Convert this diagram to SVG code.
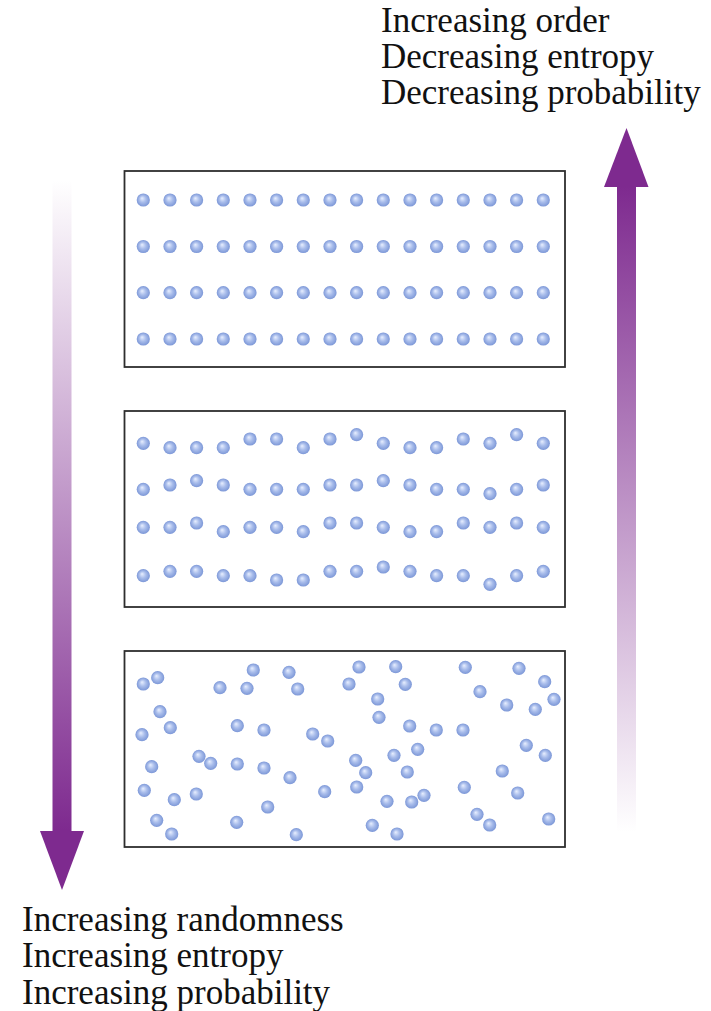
<svg xmlns="http://www.w3.org/2000/svg" width="711" height="1011" viewBox="0 0 711 1011">
<style>
.box{fill:#fff;stroke:#2e2e2e;stroke-width:1.8}
.d{fill:url(#sphere)}
.lbl{font-family:"Liberation Serif","Times New Roman",serif;font-size:35px;fill:#111}
.arr{fill:#7e2a8f}
</style>
<defs>
<radialGradient id="sphere" cx="0.5" cy="0.5" r="0.5" fx="0.4" fy="0.36">
<stop offset="0" stop-color="#e8efff"/>
<stop offset="0.5" stop-color="#a9bdeb"/>
<stop offset="1" stop-color="#7c97d7"/>
</radialGradient>
<linearGradient id="gDown" gradientUnits="userSpaceOnUse" x1="0" y1="180" x2="0" y2="830">
<stop offset="0" stop-color="#7e2a8f" stop-opacity="0"/>
<stop offset="1" stop-color="#7e2a8f" stop-opacity="1"/>
</linearGradient>
<linearGradient id="gUp" gradientUnits="userSpaceOnUse" x1="0" y1="186" x2="0" y2="832">
<stop offset="0" stop-color="#7e2a8f" stop-opacity="1"/>
<stop offset="1" stop-color="#7e2a8f" stop-opacity="0"/>
</linearGradient>
</defs>
<rect width="711" height="1011" fill="#fff"/>

<g id="connectors">
<g id="arrow-down">
<rect x="52.5" y="180" width="19" height="652" fill="url(#gDown)"/>
<polygon class="arr" points="40,831 84,831 62,890"/>
</g>
<g id="arrow-up">
<rect x="617" y="186" width="19" height="646" fill="url(#gUp)"/>
<polygon class="arr" points="604,187 648.5,187 626.5,128"/>
</g>
</g>

<g id="label-top">
<text class="lbl" x="381" y="32">Increasing order</text>
<text class="lbl" x="381" y="68">Decreasing entropy</text>
<text class="lbl" x="381" y="104">Decreasing probability</text>
</g>
<g id="label-bottom">
<text class="lbl" x="22" y="931">Increasing randomness</text>
<text class="lbl" x="22" y="967">Increasing entropy</text>
<text class="lbl" x="22" y="1003.5">Increasing probability</text>
</g>

<g id="box-ordered">
<rect class="box" x="124.5" y="171" width="440.5" height="196"/>
<g>
<circle class="d" cx="143.3" cy="200" r="6.6"/><circle class="d" cx="170" cy="200" r="6.6"/><circle class="d" cx="196.6" cy="200" r="6.6"/><circle class="d" cx="223.3" cy="200" r="6.6"/><circle class="d" cx="250" cy="200" r="6.6"/><circle class="d" cx="276.6" cy="200" r="6.6"/><circle class="d" cx="303.3" cy="200" r="6.6"/><circle class="d" cx="330" cy="200" r="6.6"/><circle class="d" cx="356.6" cy="200" r="6.6"/><circle class="d" cx="383.3" cy="200" r="6.6"/><circle class="d" cx="410" cy="200" r="6.6"/><circle class="d" cx="436.6" cy="200" r="6.6"/><circle class="d" cx="463.3" cy="200" r="6.6"/><circle class="d" cx="490" cy="200" r="6.6"/><circle class="d" cx="516.6" cy="200" r="6.6"/><circle class="d" cx="543.3" cy="200" r="6.6"/>
<circle class="d" cx="143.3" cy="246.5" r="6.6"/><circle class="d" cx="170" cy="246.5" r="6.6"/><circle class="d" cx="196.6" cy="246.5" r="6.6"/><circle class="d" cx="223.3" cy="246.5" r="6.6"/><circle class="d" cx="250" cy="246.5" r="6.6"/><circle class="d" cx="276.6" cy="246.5" r="6.6"/><circle class="d" cx="303.3" cy="246.5" r="6.6"/><circle class="d" cx="330" cy="246.5" r="6.6"/><circle class="d" cx="356.6" cy="246.5" r="6.6"/><circle class="d" cx="383.3" cy="246.5" r="6.6"/><circle class="d" cx="410" cy="246.5" r="6.6"/><circle class="d" cx="436.6" cy="246.5" r="6.6"/><circle class="d" cx="463.3" cy="246.5" r="6.6"/><circle class="d" cx="490" cy="246.5" r="6.6"/><circle class="d" cx="516.6" cy="246.5" r="6.6"/><circle class="d" cx="543.3" cy="246.5" r="6.6"/>
<circle class="d" cx="143.3" cy="292.7" r="6.6"/><circle class="d" cx="170" cy="292.7" r="6.6"/><circle class="d" cx="196.6" cy="292.7" r="6.6"/><circle class="d" cx="223.3" cy="292.7" r="6.6"/><circle class="d" cx="250" cy="292.7" r="6.6"/><circle class="d" cx="276.6" cy="292.7" r="6.6"/><circle class="d" cx="303.3" cy="292.7" r="6.6"/><circle class="d" cx="330" cy="292.7" r="6.6"/><circle class="d" cx="356.6" cy="292.7" r="6.6"/><circle class="d" cx="383.3" cy="292.7" r="6.6"/><circle class="d" cx="410" cy="292.7" r="6.6"/><circle class="d" cx="436.6" cy="292.7" r="6.6"/><circle class="d" cx="463.3" cy="292.7" r="6.6"/><circle class="d" cx="490" cy="292.7" r="6.6"/><circle class="d" cx="516.6" cy="292.7" r="6.6"/><circle class="d" cx="543.3" cy="292.7" r="6.6"/>
<circle class="d" cx="143.3" cy="339" r="6.6"/><circle class="d" cx="170" cy="339" r="6.6"/><circle class="d" cx="196.6" cy="339" r="6.6"/><circle class="d" cx="223.3" cy="339" r="6.6"/><circle class="d" cx="250" cy="339" r="6.6"/><circle class="d" cx="276.6" cy="339" r="6.6"/><circle class="d" cx="303.3" cy="339" r="6.6"/><circle class="d" cx="330" cy="339" r="6.6"/><circle class="d" cx="356.6" cy="339" r="6.6"/><circle class="d" cx="383.3" cy="339" r="6.6"/><circle class="d" cx="410" cy="339" r="6.6"/><circle class="d" cx="436.6" cy="339" r="6.6"/><circle class="d" cx="463.3" cy="339" r="6.6"/><circle class="d" cx="490" cy="339" r="6.6"/><circle class="d" cx="516.6" cy="339" r="6.6"/><circle class="d" cx="543.3" cy="339" r="6.6"/>
</g>
</g>

<g id="box-partial">
<rect class="box" x="124.5" y="411" width="440.5" height="196"/>
<g>
<circle class="d" cx="143.3" cy="443.3" r="6.6"/><circle class="d" cx="170" cy="447.7" r="6.6"/><circle class="d" cx="196.6" cy="447.7" r="6.6"/><circle class="d" cx="223.3" cy="447.7" r="6.6"/><circle class="d" cx="250" cy="439" r="6.6"/><circle class="d" cx="276.6" cy="439" r="6.6"/><circle class="d" cx="303.3" cy="447.7" r="6.6"/><circle class="d" cx="330" cy="439" r="6.6"/><circle class="d" cx="356.6" cy="434.7" r="6.6"/><circle class="d" cx="383.3" cy="443.3" r="6.6"/><circle class="d" cx="410" cy="447.7" r="6.6"/><circle class="d" cx="436.6" cy="447.7" r="6.6"/><circle class="d" cx="463.3" cy="439" r="6.6"/><circle class="d" cx="490" cy="443.3" r="6.6"/><circle class="d" cx="516.6" cy="434.7" r="6.6"/><circle class="d" cx="543.3" cy="443.3" r="6.6"/>
<circle class="d" cx="143.3" cy="489.3" r="6.6"/><circle class="d" cx="170" cy="485" r="6.6"/><circle class="d" cx="196.6" cy="480.7" r="6.6"/><circle class="d" cx="223.3" cy="485" r="6.6"/><circle class="d" cx="250" cy="489.3" r="6.6"/><circle class="d" cx="276.6" cy="489.3" r="6.6"/><circle class="d" cx="303.3" cy="489.3" r="6.6"/><circle class="d" cx="330" cy="485" r="6.6"/><circle class="d" cx="356.6" cy="485" r="6.6"/><circle class="d" cx="383.3" cy="480.7" r="6.6"/><circle class="d" cx="410" cy="485" r="6.6"/><circle class="d" cx="436.6" cy="489.3" r="6.6"/><circle class="d" cx="463.3" cy="489.3" r="6.6"/><circle class="d" cx="490" cy="493.7" r="6.6"/><circle class="d" cx="516.6" cy="489.3" r="6.6"/><circle class="d" cx="543.3" cy="485" r="6.6"/>
<circle class="d" cx="143.3" cy="527.3" r="6.6"/><circle class="d" cx="170" cy="527.3" r="6.6"/><circle class="d" cx="196.6" cy="523" r="6.6"/><circle class="d" cx="223.3" cy="531.7" r="6.6"/><circle class="d" cx="250" cy="527.3" r="6.6"/><circle class="d" cx="276.6" cy="527.3" r="6.6"/><circle class="d" cx="303.3" cy="531.7" r="6.6"/><circle class="d" cx="330" cy="523" r="6.6"/><circle class="d" cx="356.6" cy="523" r="6.6"/><circle class="d" cx="383.3" cy="527.3" r="6.6"/><circle class="d" cx="410" cy="531.7" r="6.6"/><circle class="d" cx="436.6" cy="531.7" r="6.6"/><circle class="d" cx="463.3" cy="523" r="6.6"/><circle class="d" cx="490" cy="527.3" r="6.6"/><circle class="d" cx="516.6" cy="523" r="6.6"/><circle class="d" cx="543.3" cy="527.3" r="6.6"/>
<circle class="d" cx="143.3" cy="575.7" r="6.6"/><circle class="d" cx="170" cy="571.3" r="6.6"/><circle class="d" cx="196.6" cy="571.3" r="6.6"/><circle class="d" cx="223.3" cy="575.7" r="6.6"/><circle class="d" cx="250" cy="575.7" r="6.6"/><circle class="d" cx="276.6" cy="580" r="6.6"/><circle class="d" cx="303.3" cy="580" r="6.6"/><circle class="d" cx="330" cy="571.3" r="6.6"/><circle class="d" cx="356.6" cy="571.3" r="6.6"/><circle class="d" cx="383.3" cy="567" r="6.6"/><circle class="d" cx="410" cy="571.3" r="6.6"/><circle class="d" cx="436.6" cy="575.7" r="6.6"/><circle class="d" cx="463.3" cy="575.7" r="6.6"/><circle class="d" cx="490" cy="584.3" r="6.6"/><circle class="d" cx="516.6" cy="575.7" r="6.6"/><circle class="d" cx="543.3" cy="571.3" r="6.6"/>
</g>
</g>

<g id="box-random">
<rect class="box" x="124.5" y="651" width="440.5" height="196"/>
<g>
<circle class="d" cx="143.3" cy="684" r="6.6"/><circle class="d" cx="157.7" cy="677.7" r="6.6"/><circle class="d" cx="253.3" cy="670" r="6.6"/><circle class="d" cx="289" cy="672.3" r="6.6"/><circle class="d" cx="359" cy="667" r="6.6"/><circle class="d" cx="395.7" cy="666.7" r="6.6"/><circle class="d" cx="465.3" cy="667.3" r="6.6"/><circle class="d" cx="519" cy="668.3" r="6.6"/><circle class="d" cx="544.7" cy="681.7" r="6.6"/>
<circle class="d" cx="220" cy="687.7" r="6.6"/><circle class="d" cx="247" cy="688.3" r="6.6"/><circle class="d" cx="297.7" cy="689" r="6.6"/><circle class="d" cx="349" cy="684" r="6.6"/><circle class="d" cx="405.3" cy="684.3" r="6.6"/><circle class="d" cx="377.7" cy="699" r="6.6"/><circle class="d" cx="480" cy="691.7" r="6.6"/><circle class="d" cx="554" cy="699.3" r="6.6"/>
<circle class="d" cx="160" cy="711.7" r="6.6"/><circle class="d" cx="506.7" cy="705" r="6.6"/><circle class="d" cx="535.3" cy="709.3" r="6.6"/><circle class="d" cx="170.3" cy="727.7" r="6.6"/><circle class="d" cx="237.3" cy="725.7" r="6.6"/><circle class="d" cx="264" cy="730" r="6.6"/><circle class="d" cx="142" cy="734.7" r="6.6"/><circle class="d" cx="312.7" cy="734" r="6.6"/><circle class="d" cx="327.7" cy="741" r="6.6"/>
<circle class="d" cx="379" cy="717.3" r="6.6"/><circle class="d" cx="409.7" cy="726" r="6.6"/><circle class="d" cx="436.3" cy="730" r="6.6"/><circle class="d" cx="463" cy="730" r="6.6"/><circle class="d" cx="526.3" cy="745.3" r="6.6"/>
<circle class="d" cx="199" cy="756.3" r="6.6"/><circle class="d" cx="210.7" cy="763.3" r="6.6"/><circle class="d" cx="237.3" cy="764" r="6.6"/><circle class="d" cx="264" cy="768" r="6.6"/><circle class="d" cx="151.7" cy="766.7" r="6.6"/><circle class="d" cx="355.7" cy="760.3" r="6.6"/><circle class="d" cx="394" cy="755.3" r="6.6"/><circle class="d" cx="417.7" cy="749.3" r="6.6"/><circle class="d" cx="545.3" cy="755.3" r="6.6"/>
<circle class="d" cx="365.7" cy="772.7" r="6.6"/><circle class="d" cx="407.3" cy="772" r="6.6"/><circle class="d" cx="502.3" cy="771" r="6.6"/><circle class="d" cx="290" cy="777.7" r="6.6"/>
<circle class="d" cx="144.3" cy="790.3" r="6.6"/><circle class="d" cx="174.3" cy="799.7" r="6.6"/><circle class="d" cx="196.3" cy="794" r="6.6"/><circle class="d" cx="324.7" cy="791.7" r="6.6"/><circle class="d" cx="356.7" cy="787" r="6.6"/><circle class="d" cx="464.3" cy="787.3" r="6.6"/><circle class="d" cx="387" cy="801.3" r="6.6"/><circle class="d" cx="411.7" cy="802" r="6.6"/><circle class="d" cx="424" cy="795.3" r="6.6"/><circle class="d" cx="517.7" cy="793" r="6.6"/>
<circle class="d" cx="267.7" cy="807" r="6.6"/><circle class="d" cx="156.7" cy="820.3" r="6.6"/><circle class="d" cx="236.7" cy="822.3" r="6.6"/><circle class="d" cx="372.3" cy="825.3" r="6.6"/><circle class="d" cx="477" cy="814.3" r="6.6"/><circle class="d" cx="489.7" cy="825" r="6.6"/><circle class="d" cx="548.7" cy="819" r="6.6"/>
<circle class="d" cx="171.7" cy="834" r="6.6"/><circle class="d" cx="296.3" cy="834.7" r="6.6"/><circle class="d" cx="397" cy="834" r="6.6"/>
</g>
</g>
</svg>
